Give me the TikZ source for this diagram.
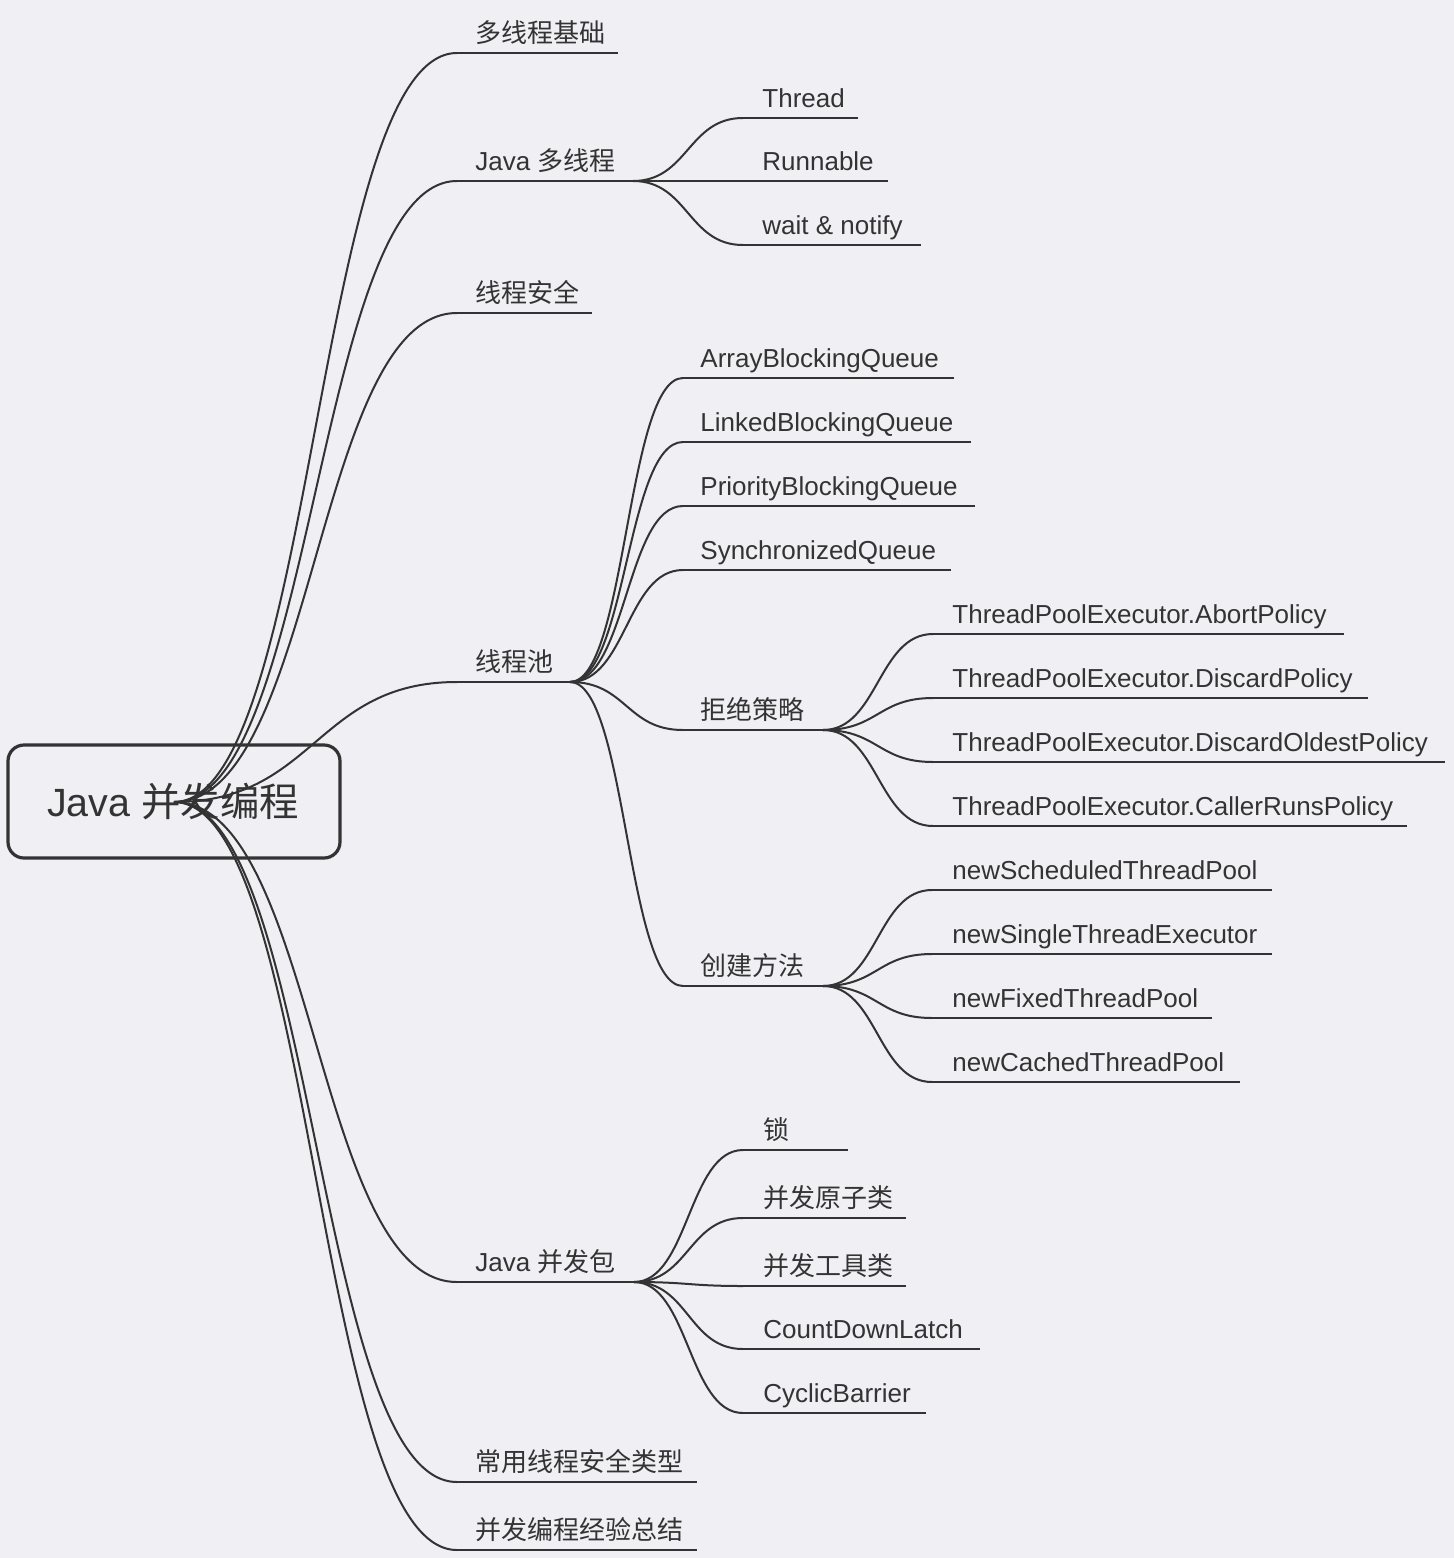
\documentclass[tikz,border=0pt]{standalone}
\usepackage{fontspec}
\setmainfont{Liberation Sans}
\newfontfamily\cjk{Noto Sans CJK SC}
\usetikzlibrary{calc}
\definecolor{bg}{RGB}{239,239,244}
\definecolor{ink}{RGB}{51,51,51}
\tikzset{
  lbl/.style={anchor=base west, inner sep=0pt, text=ink, font=\fontsize{13pt}{15pt}\selectfont},
  ul/.style={draw=ink, line width=1pt},
  conn/.style={draw=ink, line width=1pt},
  branch/.style={to path={let \p1=(\tikztostart), \p2=(\tikztotarget) in
      .. controls ({0.5*\x1+0.5*\x2},\y1) and ({0.5*\x1+0.5*\x2},\y2) .. (\tikztotarget)}},
  rootbox/.style={draw=ink, line width=1.6pt, rounded corners=8pt, minimum width=166pt,
      minimum height=56.5pt, text=ink, font=\fontsize{19.7pt}{22pt}\selectfont, inner sep=0pt}
}
% name, x underline start, x text, x underline end, y underline, text
\newcommand\mmtopic[6]{%
  \coordinate (#1-s) at (#2,#5);
  \coordinate (#1-e) at (#4,#5);
  \node[lbl] (#1) at (#3,#5-11) {#6};
  \draw[ul] (#1-s) -- (#1-e);
}
\begin{document}
\begin{tikzpicture}[x=0.5pt,y=-0.5pt]
\fill[bg] (0,0) rectangle (1454,1558);
\useasboundingbox (0,0) rectangle (1454,1558);

% root
\node[rootbox] (root) at (174,801.5) {};
\node[anchor=base, inner sep=0pt, text=ink, font=\fontsize{19.7pt}{22pt}\selectfont] (roottext) at (173,816) {Java {\cjk 并发编程}};
\coordinate (rc) at (174,802);

% level 1
\mmtopic{t1}{457}{475}{618}{53}{\cjk 多线程基础}
\mmtopic{t2}{457}{475}{633}{181}{Java {\cjk 多线程}}
\mmtopic{t3}{457}{475}{592}{313}{\cjk 线程安全}
\mmtopic{t4}{457}{475}{570}{682}{\cjk 线程池}
\mmtopic{t5}{457}{475}{634}{1282}{Java {\cjk 并发包}}
\mmtopic{t6}{457}{475}{697}{1482}{\cjk 常用线程安全类型}
\mmtopic{t7}{457}{475}{697}{1550}{\cjk 并发编程经验总结}

% children of Java 多线程
\mmtopic{a1}{743}{762}{858}{118}{Thread}
\mmtopic{a2}{743}{762}{888}{181}{Runnable}
\mmtopic{a3}{743}{762}{921}{245}{wait \& notify}

% children of 线程池
\mmtopic{b1}{683}{700}{954}{378}{ArrayBlockingQueue}
\mmtopic{b2}{683}{700}{971}{442}{LinkedBlockingQueue}
\mmtopic{b3}{683}{700}{975}{506}{PriorityBlockingQueue}
\mmtopic{b4}{683}{700}{951}{570}{SynchronizedQueue}
\mmtopic{b5}{683}{700}{823}{730}{\cjk 拒绝策略}
\mmtopic{b6}{683}{700}{823}{986}{\cjk 创建方法}

% children of 拒绝策略
\mmtopic{c1}{933}{952}{1344}{634}{ThreadPoolExecutor.AbortPolicy}
\mmtopic{c2}{933}{952}{1368}{698}{ThreadPoolExecutor.DiscardPolicy}
\mmtopic{c3}{933}{952}{1445}{762}{ThreadPoolExecutor.DiscardOldestPolicy}
\mmtopic{c4}{933}{952}{1407}{826}{ThreadPoolExecutor.CallerRunsPolicy}

% children of 创建方法
\mmtopic{d1}{932}{952}{1272}{890}{newScheduledThreadPool}
\mmtopic{d2}{932}{952}{1272}{954}{newSingleThreadExecutor}
\mmtopic{d3}{932}{952}{1212}{1018}{newFixedThreadPool}
\mmtopic{d4}{932}{952}{1240}{1082}{newCachedThreadPool}

% children of Java 并发包
\mmtopic{e1}{743}{763}{848}{1150}{\cjk 锁}
\mmtopic{e2}{743}{763}{906}{1218}{\cjk 并发原子类}
\mmtopic{e3}{743}{763}{906}{1286}{\cjk 并发工具类}
\mmtopic{e4}{743}{763}{980}{1349}{CountDownLatch}
\mmtopic{e5}{743}{763}{926}{1413}{CyclicBarrier}

% connectors
\foreach \t in {t1,t2,t3,t4,t5,t6,t7} \draw[conn] (rc) to[branch] (\t-s);
\foreach \t in {a1,a2,a3} \draw[conn] (t2-e) to[branch] (\t-s);
\foreach \t in {b1,b2,b3,b4,b5,b6} \draw[conn] (t4-e) to[branch] (\t-s);
\foreach \t in {c1,c2,c3,c4} \draw[conn] (b5-e) to[branch] (\t-s);
\foreach \t in {d1,d2,d3,d4} \draw[conn] (b6-e) to[branch] (\t-s);
\foreach \t in {e1,e2,e3,e4,e5} \draw[conn] (t5-e) to[branch] (\t-s);
\end{tikzpicture}
\end{document}
